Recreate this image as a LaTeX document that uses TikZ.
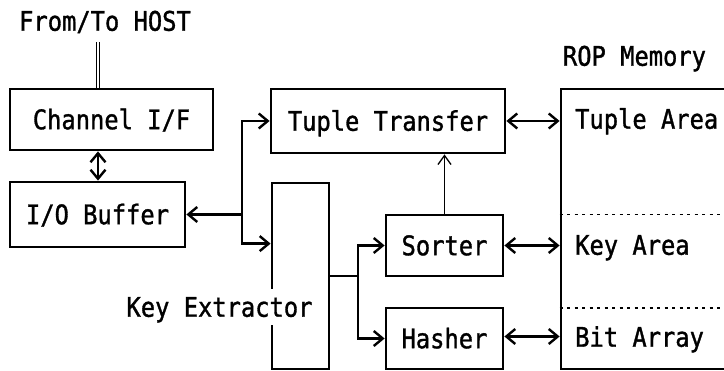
\documentclass[tikz,border=0pt]{standalone}
\usepackage{fontspec}
\usetikzlibrary{arrows.meta}
\newfontfamily\plotfont[FakeStretch=0.88, FakeBold=1.2]{DejaVu Sans Mono}

\tikzset{
  wire/.style={line width=2.6pt, line cap=rect},
  thinwire/.style={line width=1.3pt},
  tip/.tip={Straight Barb[length=9pt, width=15pt, line width=2.4pt]},
  thintip/.tip={Straight Barb[length=9pt, width=13pt, line width=1.3pt]},
  block/.style={draw, line width=2.8pt, inner sep=0pt,
    text height=19.5pt, text depth=0pt},
  label/.style={inner sep=0pt, text height=19.5pt, text depth=0pt},
}

\begin{document}
\begin{tikzpicture}[x=1pt, y=-1pt, font=\plotfont\fontsize{27pt}{30pt}\selectfont]
\useasboundingbox (0,0) rectangle (724,371);

% processing units
\node[block, minimum width=203pt, minimum height=61pt] (chan)   at (111.5,119.5) {Channel I/F};
\node[block, minimum width=175pt, minimum height=65pt] (iobuf)  at (97.5,214.5)  {I/O Buffer};
\node[block, minimum width=234pt, minimum height=64pt] (tuple)  at (388,121)     {Tuple Transfer};
\node[block, minimum width=57pt,  minimum height=186pt] (keyex) at (300.5,276)   {};
\node[block, minimum width=117pt, minimum height=61pt] (sorter) at (444.5,245.5) {Sorter};
\node[block, minimum width=117pt, minimum height=61pt] (hasher) at (444.5,338.5) {Hasher};

% ROP memory, running past the right edge
\node[block, minimum width=200pt, minimum height=280pt] (rop) at (661,229) {};
\node[label] (roplbl) at (634.5,56) {ROP Memory};
\node[label, anchor=west] (tarea) at (575,119) {Tuple Area};
\node[label, anchor=west] (karea) at (575,245) {Key Area};
\node[label, anchor=west] (barea) at (575,337) {Bit Array};
\coordinate (cut1) at (724,214.5);
\coordinate (cut2) at (724,308);
\draw[thinwire, dash pattern=on 3pt off 4.5pt] (rop.west |- cut1) -- (cut1);
\draw[thinwire, dash pattern=on 3pt off 4.5pt] (rop.west |- cut2) -- (cut2);

% label of the key extractor, breaking its left edge
\node[label, fill=white, inner xsep=0pt, inner ysep=8pt] (keylbl) at (219.5,307) {Key Extractor};

% host channel
\node[label] (hostlbl) at (105,21) {From/To HOST};
\coordinate (host) at (98,42);
\draw[line width=1.1pt, double, double distance=2.2pt] (host) -- (chan.north -| host);
\draw[wire, {tip}-{tip}] (chan.south -| host) -- (iobuf.north -| host);

% distribution from the I/O buffer
\coordinate (split) at (242,214.5);
\coordinate (kin) at ([yshift=-62pt]keyex.north west);
\draw[wire, -{tip}] (split) -- (iobuf.east);
\draw[wire, -{tip}] (split) |- (tuple.west);
\draw[wire, -{tip}] (split) |- (kin);

% key extractor to sorter and hasher
\coordinate (fork) at (358,276);
\draw[wire] (keyex.east) -- (fork);
\draw[wire, -{tip}] (fork) |- (sorter.west);
\draw[wire, -{tip}] (fork) |- (hasher.west);

% sorter feeds the tuple transfer
\draw[thinwire, -{thintip}] (sorter.north) -- (sorter.north |- tuple.south);

% memory ports
\draw[wire, {tip}-{tip}] (tuple.east) -- (tuple.east -| rop.west);
\draw[wire, {tip}-{tip}] (sorter.east) -- (sorter.east -| rop.west);
\draw[wire, {tip}-{tip}] ([yshift=2pt]hasher.east) -- ([yshift=2pt]hasher.east -| rop.west);
\end{tikzpicture}
\end{document}
